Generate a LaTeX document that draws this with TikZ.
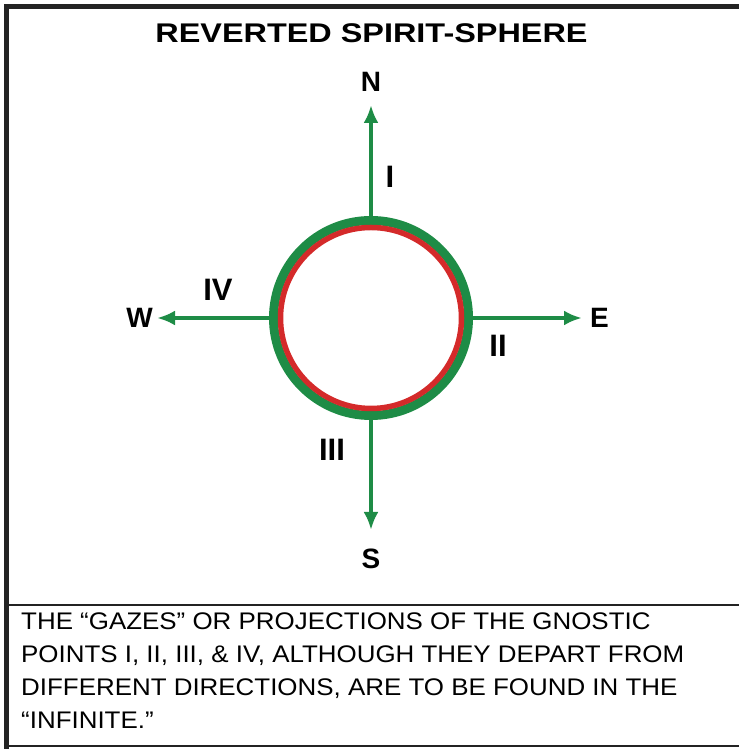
\documentclass[tikz,border=0pt]{standalone}
\usepackage{fontspec}
\setmainfont{Liberation Sans}
\newfontfamily\titlefont[FakeStretch=1.2]{Liberation Sans}
\newfontfamily\notefont[FakeStretch=1.08]{Liberation Sans}
\usepackage{xcolor}
\usepackage{tikz}
\usetikzlibrary{arrows.meta, positioning}
\definecolor{sphgreen}{RGB}{30,140,70}
\definecolor{sphred}{RGB}{212,42,42}
\definecolor{framegray}{RGB}{35,35,35}

\begin{document}
\begin{tikzpicture}[
  x=1pt, y=1pt,
  node distance=6pt,
  ttl/.style={font=\titlefont\bfseries\fontsize{27}{30}\selectfont, inner sep=0pt},
  dir/.style={font=\bfseries\fontsize{28}{30}\selectfont, inner sep=0pt},
  num/.style={font=\bfseries\fontsize{31}{33}\selectfont, inner sep=0pt},
  txt/.style={font=\notefont\fontsize{24}{33}\selectfont, align=left, inner sep=0pt},
  sph/.style={circle, draw=sphgreen, line width=9pt, minimum size=195pt, inner sep=0pt},
  arr/.style={-{Latex[length=18pt, width=15pt]}, line width=4.5pt, draw=sphgreen, fill=sphgreen}
]
\useasboundingbox (0,0) rectangle (739,749);
% frame
\draw[framegray, line width=5pt] (6.5,0) -- (6.5,745);
\draw[framegray, line width=5pt] (4,742.5) -- (739,742.5);
\draw[framegray, line width=2pt] (4,2.5) -- (739,2.5);
\draw[framegray, line width=2pt] (9,144) -- (739,144);

\node[ttl] (title) at (371.5,715.5) {REVERTED SPIRIT-SPHERE};

% sphere
\node[sph] (c) at (371,431) {};
\draw[sphred, line width=5.5pt] (c.center) circle (90.5);

\coordinate (nT) at (371,644);
\coordinate (eT) at (582,431);
\coordinate (sT) at (371,219);
\coordinate (wT) at (157,431);
\foreach \x/\y in {c.north/nT,c.east/eT,c.south/sT,c.west/wT} \draw[arr] (\x)--(\y);

\node[dir, above=13pt of nT] (n) {N};
\node[dir, right=8pt of eT] (e) {E};
\node[dir, below=19pt of sT] (s) {S};
\node[dir, left=4pt of wT] (w) {W};

\node[num] (one) at (390,572) {I};
\node[num] (two) at (498,403) {II};
\node[num] (three) at (332,299) {III};
\node[num] (four) at (218,459) {IV};

\node[txt, anchor=north west] (note) at (21,136.5) {THE “GAZES” OR PROJECTIONS OF THE GNOSTIC\\
POINTS I, II, III, \& IV, ALTHOUGH THEY DEPART FROM\\
DIFFERENT DIRECTIONS, ARE TO BE FOUND IN THE\\
“INFINITE.”};
\end{tikzpicture}
\end{document}
